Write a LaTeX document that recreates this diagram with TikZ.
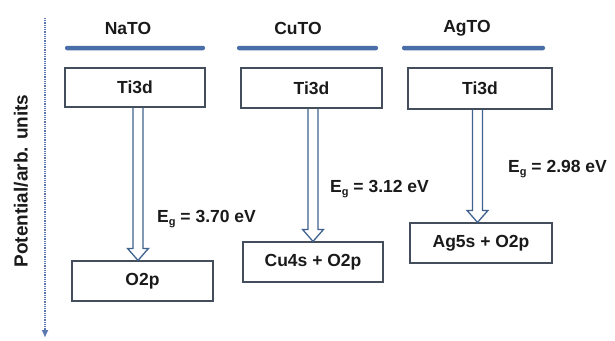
\documentclass[tikz,border=0pt]{standalone}
\usepackage{fontspec}
\setmainfont{Liberation Sans}
\usetikzlibrary{calc,arrows.meta}
\definecolor{barblue}{HTML}{4A6FA8}
\definecolor{edgegray}{HTML}{434D5C}
\definecolor{arrblue}{HTML}{3F628F}
\definecolor{axblue}{HTML}{5A78B0}
\definecolor{txt}{HTML}{1A1A1A}
\newcommand\lblfont{\bfseries\fontsize{17.5}{20}\selectfont}
\newcommand\subg{\raisebox{-0.35ex}{\fontsize{11}{11}\selectfont g}}
\tikzset{
  lvl/.style={draw=edgegray, line width=1.2pt, minimum height=39pt, inner sep=0pt, font=\lblfont, text=txt},
  barnode/.style={fill=barblue, minimum height=4.5pt, inner sep=0pt, rounded corners=2pt},
  head/.style={font=\lblfont, text=txt, inner sep=0pt},
  eg/.style={anchor=west, font=\lblfont, text=txt, inner sep=0pt},
  hollow/.style={draw=arrblue, line width=1.3pt, line join=miter},
  axis/.style={draw=axblue, line width=2pt, dash pattern=on 1pt off 0.8pt, -{Latex[length=8pt,width=7pt]}}
}
\newcommand\gaparrow[3]{%
  \path ($(#1.south)+(#3,0)$) coordinate (#1-t);
  \path (#1-t |- #2.north) coordinate (#1-b);
  \draw[hollow] ($(#1-t)+(-5,0)$) -- ($(#1-b)+(-5,-12)$) -- ($(#1-b)+(-10.5,-12)$) -- (#1-b)
     -- ($(#1-b)+(10.5,-12)$) -- ($(#1-b)+(5,-12)$) -- ($(#1-t)+(5,0)$);
}
\begin{document}
\begin{tikzpicture}[x=1pt,y=-1pt]
\useasboundingbox (0,0) rectangle (615,340);
% axis
\coordinate (axtop) at (45,18);
\coordinate (axbot) at (45,338);
\draw[axis] (axtop) -- (axbot);
\node[rotate=90, font=\bfseries\fontsize{19}{22}\selectfont, text=txt] (axl) at (21,181) {Potential/arb. units};
% NaTO
\node[head] (nah) at (128,28) {NaTO};
\node[barnode, minimum width=140pt] (nab) at (135,48) {};
\node[lvl, minimum width=140pt] (na1) at (135,87.5) {Ti3d};
\node[lvl, minimum width=141pt, minimum height=40pt] (na2) at (142.5,281) {O2p};
\gaparrow{na1}{na2}{3}
\node[eg] (nae) at (157,219) {E\subg{} = 3.70 eV};
% CuTO
\node[head] (cuh) at (298,28) {CuTO};
\node[barnode, minimum width=141pt] (cub) at (307.5,48) {};
\node[lvl, minimum width=141pt, minimum height=40pt] (cu1) at (311.5,88) {Ti3d};
\node[lvl, minimum width=140pt, minimum height=40pt] (cu2) at (313,262) {Cu4s + O2p};
\gaparrow{cu1}{cu2}{1.5}
\node[eg] (cue) at (330,189) {E\subg{} = 3.12 eV};
% AgTO
\node[head] (agh) at (467,28) {AgTO};
\node[barnode, minimum width=143pt] (agb) at (473.5,48) {};
\node[lvl, minimum width=144pt, minimum height=41pt] (ag1) at (480,88.5) {Ti3d};
\node[lvl, minimum width=142pt, minimum height=40pt] (ag2) at (481,243) {Ag5s + O2p};
\gaparrow{ag1}{ag2}{-2.5}
\node[eg] (age) at (508,169) {E\subg{} = 2.98 eV};
\end{tikzpicture}
\end{document}
